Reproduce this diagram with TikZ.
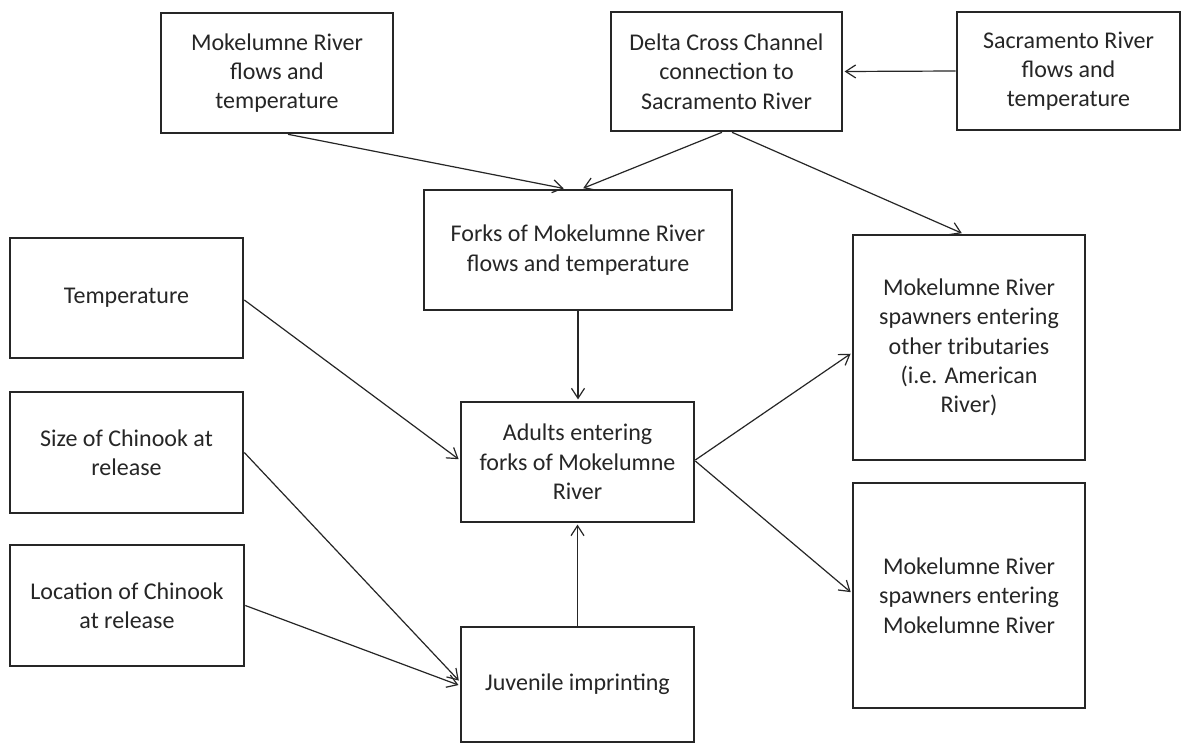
\documentclass[tikz,border=0pt]{standalone}
\usepackage{fontspec}
\setmainfont{Carlito}
\usetikzlibrary{arrows.meta}
\definecolor{ink}{HTML}{262626}
\begin{document}
\begin{tikzpicture}[x=1pt,y=-1pt,
  box/.style={draw=ink, line width=2.6pt, fill=white, align=center, inner sep=0pt,
    font=\fontsize{24}{29.3}\selectfont, text=ink},
  arr/.style={draw=ink, line width=1.2pt, shorten >=1.3pt, -{Straight Barb[length=10pt,width=13pt,line width=1.2pt]}}]
\useasboundingbox (0,0) rectangle (1182,744);
\fill[white] (0,0) rectangle (1182,744);

\node[box, minimum width=232pt, minimum height=120pt] (m1) at (277,73) {Mokelumne River\\flows and\\temperature};
\node[box, minimum width=231pt, minimum height=119pt] (delta) at (726.5,71.5) {Delta Cross Channel\\connection to\\Sacramento River};
\node[box, minimum width=223pt, minimum height=118pt] (sac) at (1068.5,71) {Sacramento River\\flows and\\temperature};
\node[box, minimum width=308pt, minimum height=120pt] (forks) at (578,250) {Forks of Mokelumne River\\flows and temperature};
\node[box, minimum width=233pt, minimum height=120pt] (temp) at (126.5,298) {Temperature};
\node[box, minimum width=233pt, minimum height=121pt] (size) at (126.5,452.5) {Size of Chinook at\\release};
\node[box, minimum width=234pt, minimum height=121pt] (loc) at (127,605.5) {Location of Chinook\\at release};
\node[box, minimum width=233pt, minimum height=120pt] (adults) at (577.5,462) {Adults entering\\forks of Mokelumne\\River};
\node[box, minimum width=233pt, minimum height=115pt] (juv) at (577.5,684.5) {Juvenile imprinting};
\node[box, minimum width=232pt, minimum height=225pt] (oth) at (969,347.5) {Mokelumne River\\spawners entering\\other tributaries\\(i.e. American\\River)};
\node[box, minimum width=232pt, minimum height=225pt] (mok) at (969,595.5) {Mokelumne River\\spawners entering\\Mokelumne River};

\draw[arr] ([xshift=11pt]m1.south) -- ([xshift=-13pt]forks.north);
\draw[arr] ([xshift=-4.5pt]delta.south) -- ([xshift=4pt]forks.north);
\draw[arr] ([xshift=5.5pt]delta.south) -- ([xshift=-6pt]oth.north);
\draw[arr] (sac.west) -- (delta.east);
\draw[arr] (forks.south) -- (forks.south |- adults.north);
\draw[arr] ([yshift=-2pt]temp.east) -- ([yshift=2pt]adults.west);
\draw[arr] (size.east) -- ([yshift=3pt]juv.west);
\draw[arr] (loc.east) -- ([yshift=-1pt]juv.west);
\draw[arr] (juv.north) -- (juv.north |- adults.south);
\draw[arr] ([yshift=2pt]adults.east) -- ([yshift=-5.5pt]oth.west);
\draw[arr] ([yshift=1pt]adults.east) -- ([yshift=2.5pt]mok.west);
\end{tikzpicture}
\end{document}
